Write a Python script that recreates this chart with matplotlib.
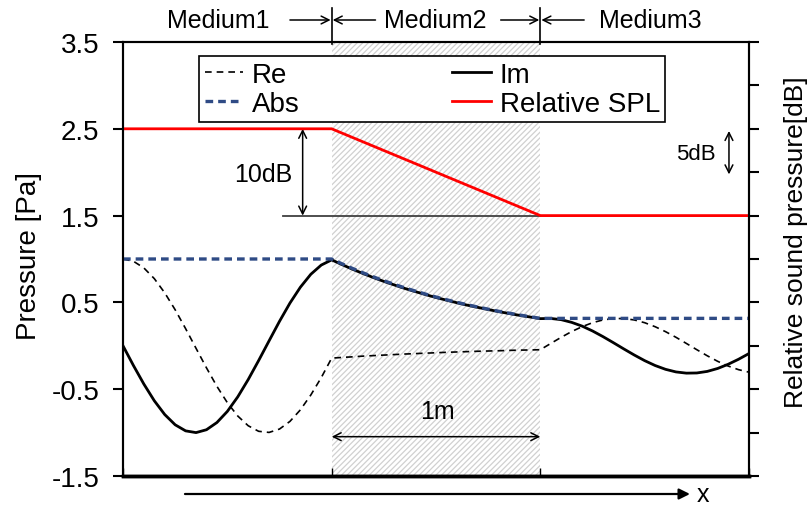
import matplotlib
matplotlib.use('Agg')
import matplotlib.pyplot as plt
from matplotlib.transforms import blended_transform_factory

plt.rcParams['font.family'] = ['Liberation Sans', 'DejaVu Sans']
plt.rcParams['axes.unicode_minus'] = False
plt.rcParams['hatch.linewidth'] = 0.9

# ---------------- data ----------------
x_pos = [round(0.05 * i, 2) for i in range(61)]

re_vals = [1.000, 0.974, 0.897, 0.774, 0.610, 0.415, 0.198, -0.029, -0.254, -0.467,
           -0.655, -0.809, -0.921, -0.985, -0.998, -0.959, -0.871, -0.738, -0.567, -0.367,
           -0.142,
           -0.134, -0.127, -0.119, -0.113, -0.107, -0.101, -0.095, -0.090, -0.085, -0.080,
           -0.075, -0.071, -0.067, -0.063, -0.060, -0.057, -0.053, -0.050, -0.048, -0.045,
           0.027, 0.098, 0.164, 0.220, 0.266, 0.298, 0.314, 0.314, 0.298, 0.266,
           0.220, 0.163, 0.098, 0.027, -0.045, -0.115, -0.179, -0.233, -0.275, -0.304]

im_vals = [0.000, -0.227, -0.441, -0.633, -0.792, -0.910, -0.980, -1.000, -0.967, -0.884,
           -0.756, -0.588, -0.389, -0.170, 0.057, 0.282, 0.492, 0.675, 0.824, 0.930,
           0.990,
           0.935, 0.882, 0.833, 0.786, 0.742, 0.701, 0.661, 0.625, 0.590, 0.556,
           0.526, 0.496, 0.468, 0.443, 0.418, 0.394, 0.372, 0.351, 0.332, 0.313,
           0.315, 0.301, 0.270, 0.227, 0.171, 0.106, 0.036, -0.036, -0.106, -0.171,
           -0.227, -0.271, -0.301, -0.315, -0.313, -0.295, -0.261, -0.213, -0.155, -0.089]

abs_vals = [1.000] * 21 + [
           0.944, 0.891, 0.841, 0.794, 0.750, 0.708, 0.668, 0.631, 0.596, 0.562,
           0.531, 0.501, 0.473, 0.447, 0.422, 0.398, 0.376, 0.355, 0.335, 0.316] + [0.316] * 20

spl_x = [0, 1, 2, 3]
spl_db = [0, 0, -10, -10]

medium_names = ['Medium1', 'Medium2', 'Medium3']
medium_bounds = [1, 2]
ytick_vals = [-1.5, -0.5, 0.5, 1.5, 2.5, 3.5]
ytick_labels = ['-1.5', '-0.5', '0.5', '1.5', '2.5', '3.5']
legend_labels = ['Re', 'Abs', 'Im', 'Relative SPL']

# ---------------- figure ----------------
W, H = 809, 506
fig = plt.figure(figsize=(W / 100, H / 100), dpi=100)
ax = fig.add_axes([123 / W, 1 - 477 / H, (749 - 123) / W, (477 - 43) / H])
ax2 = ax.twinx()

ax.set_xlim(0, 3)
ax.set_ylim(-1.5, 3.5)
ax2.set_ylim(-40, 10)

ax.axvspan(medium_bounds[0], medium_bounds[1], facecolor='white', edgecolor='#d0d0d0',
           hatch='//////', linewidth=0, zorder=0)

l_re, = ax.plot(x_pos, re_vals, color='black', lw=1.2, ls=(0, (4.0, 3.0)), zorder=3)
l_im, = ax.plot(x_pos, im_vals, color='black', lw=2.0, zorder=3)
l_abs, = ax.plot(x_pos, abs_vals, color='#2F4B85', lw=2.4, ls=(0, (2.3, 1.5)), zorder=4)
l_spl, = ax2.plot(spl_x, spl_db, color='#FF0000', lw=2.0)

for sp in ax.spines.values():
    sp.set_linewidth(1.5)
ax.spines['bottom'].set_linewidth(2.5)
for sp in ax2.spines.values():
    sp.set_linewidth(1.5)
ax2.spines['bottom'].set_linewidth(2.5)

ax.set_yticks(ytick_vals)
ax.set_yticklabels(ytick_labels)
ax.tick_params(axis='y', direction='out', length=7, width=1.5, labelsize=20, pad=10)
ax.set_xticks([0, 1, 2, 3])
ax.tick_params(axis='x', direction='in', length=6, width=1, labelbottom=False)
ax2.set_yticks(list(range(-40, 11, 5)))
ax2.tick_params(axis='y', direction='out', length=7, width=1.5, labelright=False)

ax.set_ylabel('Pressure [Pa]', fontsize=20)
ax.yaxis.set_label_coords(-0.13, 0.51)
ax2.set_ylabel('Relative sound pressure[dB]', fontsize=19)
ax2.yaxis.set_label_coords(1.056, 0.54)

# ---------------- annotations ----------------
tt = blended_transform_factory(ax.transData, fig.transFigure)
ytop = 1 - 21 / H
for b in medium_bounds:
    ax.plot([b, b], [1 - 45 / H, 1 - 9 / H], transform=tt, color='black', lw=1.2, clip_on=False)

arrow_kw = dict(arrowstyle='->', lw=1.1, color='black', shrinkA=0, shrinkB=0, mutation_scale=14)
for (xa, xb) in [(0.80, 0.995), (1.21, 1.005), (1.81, 1.995), (2.21, 2.005)]:
    ax.annotate('', xy=(xb, ytop), xytext=(xa, ytop), xycoords=tt, textcoords=tt,
                arrowprops=arrow_kw, annotation_clip=False)
for name, xc in zip(medium_names, [0.455, 1.495, 2.525]):
    ax.text(xc, ytop, name, transform=tt, ha='center', va='center', fontsize=18)

ybot = 1 - 495 / H
ax.annotate('', xy=(2.717, ybot), xytext=(0.297, ybot), xycoords=tt, textcoords=tt,
            arrowprops=dict(arrowstyle='-|>', lw=1.6, color='black', shrinkA=0, shrinkB=0,
                            mutation_scale=16), annotation_clip=False)
ax.text(2.78, ybot, 'x', transform=tt, ha='center', va='center', fontsize=18)

dbl_kw = dict(arrowstyle='<->', lw=1.1, color='black', shrinkA=0, shrinkB=0, mutation_scale=14)
ax.annotate('', xy=(2, -1.047), xytext=(1, -1.047), arrowprops=dbl_kw)
ax.text(1.505, -0.75, '1m', ha='center', va='center', fontsize=18)

ax.annotate('', xy=(0.861, 2.5), xytext=(0.861, 1.5), arrowprops=dbl_kw)
ax.plot([0.767, 2], [1.5, 1.5], color='#404040', lw=1.3, zorder=2)
ax.text(0.671, 1.98, '10dB', ha='center', va='center', fontsize=18)

ax.annotate('', xy=(2.904, 2.475), xytext=(2.904, 1.975), arrowprops=dbl_kw)
ax.text(2.746, 2.21, '5dB', ha='center', va='center', fontsize=16)

leg = ax2.legend([l_re, l_abs, l_im, l_spl], legend_labels, ncol=2, loc='upper left',
                 bbox_to_anchor=(199 / W, 1 - 57 / H), bbox_transform=fig.transFigure,
                 fontsize=20, frameon=True, fancybox=False, edgecolor='black', framealpha=1,
                 handlelength=1.4, handletextpad=0.3, columnspacing=5.5, labelspacing=0.12,
                 borderpad=0.2, borderaxespad=0)
leg.get_frame().set_linewidth(1.2)

fig.savefig('out.png', dpi=100)
